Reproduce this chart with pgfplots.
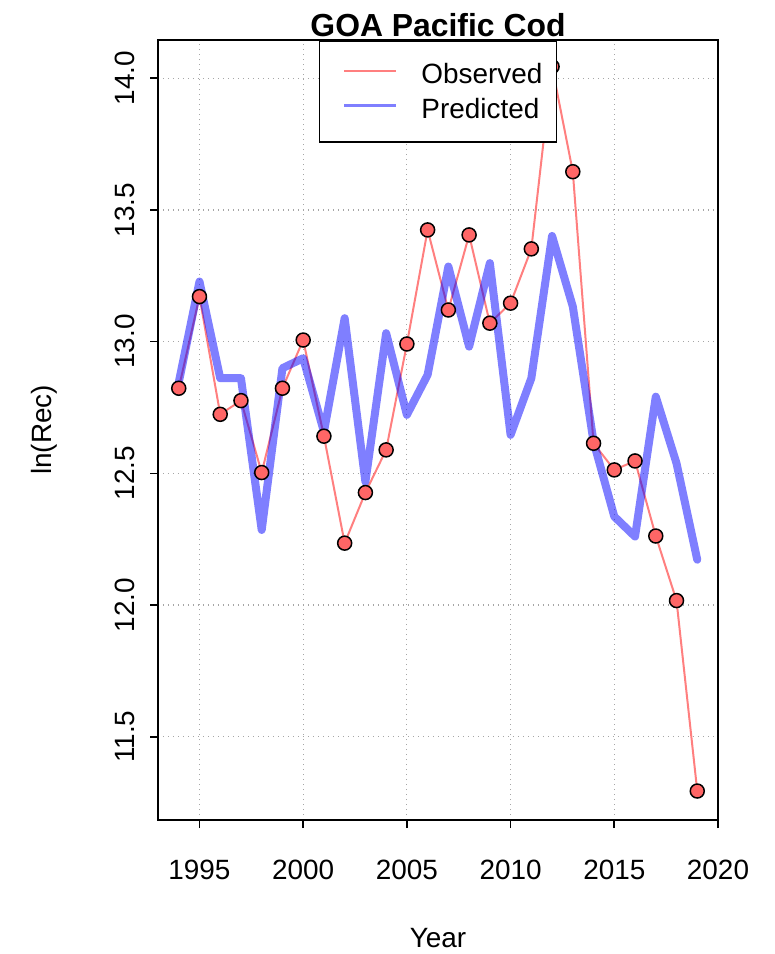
\documentclass[border=0pt]{standalone}
\usepackage{pgfplots}
\pgfplotsset{compat=1.18}
\usepackage{pgfplotstable}
\usepackage{fontspec}
\setmainfont{Liberation Sans}

\definecolor{obsred}{RGB}{255,0,0}
\definecolor{predblue}{RGB}{0,0,255}
\definecolor{ptfill}{RGB}{255,102,102}

\pgfplotsset{
  obsleg/.style={legend image code/.code={\path[draw=none] (0bp,1.5bp) -- (12.5bp,1.5bp); \draw[##1] (12.5bp,1.5bp) -- (38.5bp,1.5bp); \path[draw=none] (38.5bp,1.5bp) -- (51bp,1.5bp);}},
  predleg/.style={legend image code/.code={\path[draw=none] (0bp,1.5bp) -- (12.5bp,1.5bp); \draw[##1, line width=1.5bp, line cap=butt] (12.5bp,1.5bp) -- (38.5bp,1.5bp); \path[draw=none] (38.5bp,1.5bp) -- (51bp,1.5bp);}},
}

\pgfplotstableread{
year obs pred
1994 12.823 12.845
1995 13.171 13.228
1996 12.724 12.861
1997 12.776 12.861
1998 12.503 12.285
1999 12.823 12.899
2000 13.006 12.937
2001 12.641 12.658
2002 12.235 13.089
2003 12.427 12.468
2004 12.589 13.032
2005 12.991 12.722
2006 13.424 12.874
2007 13.120 13.285
2008 13.405 12.981
2009 13.070 13.298
2010 13.146 12.646
2011 13.352 12.861
2012 14.044 13.401
2013 13.645 13.133
2014 12.614 12.620
2015 12.513 12.336
2016 12.547 12.260
2017 12.262 12.791
2018 12.017 12.538
2019 11.294 12.172
}\datatable

\begin{document}
\begin{tikzpicture}
\path[use as bounding box] (-79bp,-67bp) rectangle (308.5bp,410bp);
\begin{axis}[
  at={(0,0)}, anchor=south west,
  scale only axis, width=280bp, height=390bp,
  xmin=1993, xmax=2020, ymin=11.184, ymax=14.145,
  xtick={1995,2000,2005,2010,2015,2020},
  xticklabels={1995,2000,2005,2010,2015,2020},
  ytick={11.5,12,12.5,13,13.5,14},
  yticklabels={11.5,12.0,12.5,13.0,13.5,14.0},
  xtick pos=left, ytick pos=left,
  tick align=outside, major tick length=4bp,
  every tick/.style={black, line width=0.8bp},
  axis line style={line width=0.8bp},
  grid=major,
  major grid style={gray!70, line width=0.6bp, dash pattern=on 0.6bp off 1.9bp},
  font=\fontsize{14}{16}\selectfont,
  xticklabel style={anchor=north, inner sep=0pt, yshift=-16bp},
  yticklabel style={xshift=-7.5bp, rotate=90, anchor=south, inner sep=0pt},
  title={GOA Pacific Cod},
  every axis title shift=0pt,
  title style={at={(axis description cs:0.5,1)}, anchor=base, yshift=1.5bp, inner sep=0pt,
    font=\fontsize{16}{19}\selectfont\bfseries},
  xlabel={Year},
  every axis x label/.style={at={(axis description cs:0.5,-0.1641)}, anchor=base, inner sep=0pt},
  ylabel={ln(Rec)},
  every axis y label/.style={at={(axis description cs:-0.1893,0.5)}, rotate=90, anchor=base, inner sep=0pt},
  legend style={at={(axis description cs:0.5,1)}, anchor=north, draw=black, line width=0.8bp,
    fill=white, inner xsep=0pt, inner ysep=11.5bp, row sep=6.7bp, column sep=0pt,
    font=\fontsize{14}{16}\selectfont,
    nodes={inner sep=0pt, text height=10bp, text depth=0.5bp, text width=67.5bp, align=left}},
  legend cell align=left,
]
\addplot[obsred, draw opacity=0.5, line width=1bp, obsleg]
  table[x=year, y=obs] {\datatable};
\addlegendentry{Observed}
\addplot[only marks, mark=*, mark size=3.5bp, mark options={fill=ptfill, draw=black, line width=0.75bp}, forget plot]
  table[x=year, y=obs] {\datatable};
\addplot[predblue, draw opacity=0.5, line width=4bp, line join=round, line cap=round, predleg]
  table[x=year, y=pred] {\datatable};
\addlegendentry{Predicted}
\end{axis}
\end{tikzpicture}
\end{document}
